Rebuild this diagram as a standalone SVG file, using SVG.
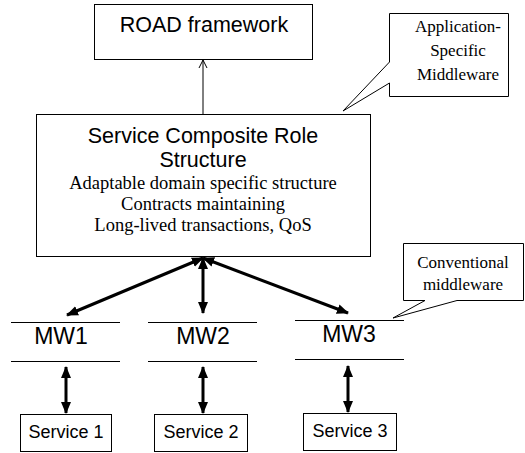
<svg xmlns="http://www.w3.org/2000/svg" width="525" height="453" viewBox="0 0 525 453">
<defs>
<style>
.box{fill:#fff;stroke:#000;stroke-width:1}
.sans{font-family:"Liberation Sans",Arial,sans-serif;fill:#000}
.serif{font-family:"Liberation Serif","Times New Roman",serif;fill:#000}
.thick{stroke:#000;stroke-width:3;fill:none}
.thin{stroke:#000;stroke-width:1;fill:none}
</style>
<marker id="ah" markerUnits="userSpaceOnUse" markerWidth="12" markerHeight="10" refX="11" refY="5" orient="auto-start-reverse">
<path d="M0,0 L12,5 L0,10 Z" fill="#000"/>
</marker>
<marker id="open" markerUnits="userSpaceOnUse" markerWidth="10" markerHeight="10" refX="9" refY="5" orient="auto">
<path d="M1,1 L9,5 L1,9" fill="none" stroke="#000" stroke-width="1"/>
</marker>
</defs>
<rect width="525" height="453" fill="#fff"/>
<g id="connectors">
<line class="thin" x1="203" y1="114" x2="203" y2="60" marker-end="url(#open)"/>
<line class="thick" x1="203" y1="258" x2="67" y2="315" marker-start="url(#ah)" marker-end="url(#ah)"/>
<line class="thick" x1="203" y1="258" x2="203" y2="313" marker-start="url(#ah)" marker-end="url(#ah)"/>
<line class="thick" x1="203" y1="258" x2="348" y2="313" marker-start="url(#ah)" marker-end="url(#ah)"/>
<line class="thick" x1="66" y1="367" x2="66" y2="413" marker-start="url(#ah)" marker-end="url(#ah)"/>
<line class="thick" x1="203" y1="367" x2="203" y2="413" marker-start="url(#ah)" marker-end="url(#ah)"/>
<line class="thick" x1="348" y1="366" x2="348" y2="412" marker-start="url(#ah)" marker-end="url(#ah)"/>
</g>
<g id="road">
<rect class="box" x="94.5" y="4.5" width="218" height="55"/>
<text class="sans" x="204" y="32" font-size="21.5" text-anchor="middle">ROAD framework</text>
</g>
<g id="callout-asm">
<path class="box" d="M389.5,13.5 H508.5 V96.5 H389.5 V83 L343,111 L389.5,62 Z"/>
<text class="serif" font-size="17" text-anchor="middle"><tspan x="458" y="32">Application-</tspan><tspan x="458" y="56">Specific</tspan><tspan x="458" y="80">Middleware</tspan></text>
</g>
<g id="scrs">
<rect class="box" x="36.5" y="114.5" width="334" height="142"/>
<text class="sans" font-size="21.5" text-anchor="middle"><tspan x="203" y="143">Service Composite Role</tspan><tspan x="203" y="167">Structure</tspan></text>
<text class="serif" font-size="18.5" text-anchor="middle"><tspan x="203" y="189">Adaptable domain specific structure</tspan><tspan x="203" y="210">Contracts maintaining</tspan><tspan x="203" y="231">Long-lived transactions, QoS</tspan></text>
</g>
<g id="callout-cm">
<path class="box" d="M403.5,243.5 H523.5 V300.5 H457 L393,318 L425,300.5 H403.5 Z"/>
<text class="serif" font-size="17" text-anchor="middle"><tspan x="463" y="268">Conventional</tspan><tspan x="463" y="290">middleware</tspan></text>
</g>
<g id="mw1">
<line class="thin" x1="11" y1="322.5" x2="120" y2="322.5"/>
<line class="thin" x1="11" y1="361.5" x2="120" y2="361.5"/>
<text class="sans" x="61" y="344" font-size="23" text-anchor="middle">MW1</text>
</g>
<g id="mw2">
<line class="thin" x1="148" y1="322.5" x2="257" y2="322.5"/>
<line class="thin" x1="148" y1="361.5" x2="257" y2="361.5"/>
<text class="sans" x="203" y="344" font-size="23" text-anchor="middle">MW2</text>
</g>
<g id="mw3">
<line class="thin" x1="295" y1="320.5" x2="404" y2="320.5"/>
<line class="thin" x1="295" y1="359.5" x2="404" y2="359.5"/>
<text class="sans" x="349" y="342" font-size="23" text-anchor="middle">MW3</text>
</g>
<g id="service1">
<rect class="box" x="20.5" y="414.5" width="91" height="37"/>
<text class="sans" x="66" y="438" font-size="18" text-anchor="middle">Service 1</text>
</g>
<g id="service2">
<rect class="box" x="154.5" y="414.5" width="93" height="37"/>
<text class="sans" x="201" y="438" font-size="18" text-anchor="middle">Service 2</text>
</g>
<g id="service3">
<rect class="box" x="303.5" y="413.5" width="93" height="37"/>
<text class="sans" x="350" y="437" font-size="18" text-anchor="middle">Service 3</text>
</g>
</svg>
